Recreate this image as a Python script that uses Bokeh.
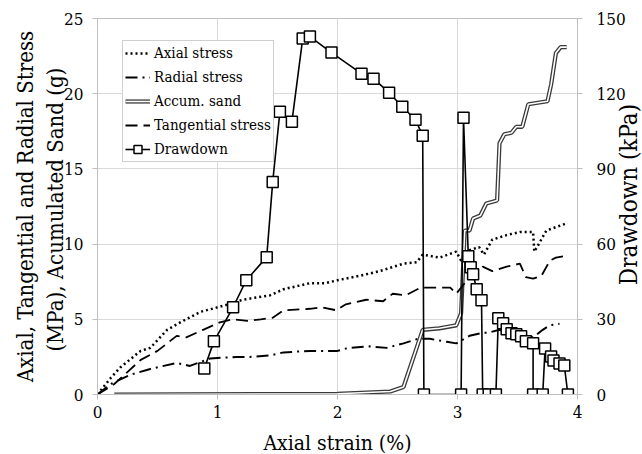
import numpy as np
from bokeh.plotting import figure
from bokeh.models import Range1d, LinearAxis, FixedTicker, Legend, LegendItem, Label
from bokeh.embed import file_html
from bokeh.resources import INLINE

# ---------------- data ----------------
axial_x = [0, 0.11, 0.19, 0.36, 0.44, 0.58, 0.69, 0.86, 1.05, 1.21, 1.44, 1.55, 1.77, 1.90, 2.00,
           2.19, 2.35, 2.55, 2.66, 2.71, 2.85, 2.99, 3.03, 3.10, 3.18, 3.22, 3.29, 3.41, 3.52,
           3.63, 3.64, 3.67, 3.74, 3.88, 3.91]
axial_y = [0, 1.1, 1.8, 2.9, 3.1, 4.3, 4.8, 5.5, 5.9, 6.3, 6.6, 7.0, 7.4, 7.4, 7.6,
           7.9, 8.2, 8.7, 8.8, 9.3, 9.1, 9.5, 8.9, 9.6, 9.8, 9.3, 10.3, 10.6, 10.8,
           10.8, 9.5, 9.9, 10.9, 11.3, 11.4]

radial_x = [0, 0.11, 0.27, 0.44, 0.66, 0.77, 0.94, 1.16, 1.27, 1.44, 1.55, 1.77, 2.00, 2.09,
            2.27, 2.41, 2.55, 2.67, 2.77, 2.91, 2.99, 3.10, 3.21, 3.25, 3.35, 3.52, 3.63,
            3.71, 3.77, 3.85]
radial_y = [0, 0.7, 1.3, 1.7, 2.1, 1.9, 2.4, 2.5, 2.5, 2.6, 2.8, 2.9, 2.9, 3.1,
            3.2, 3.1, 3.4, 3.7, 3.7, 3.5, 3.4, 3.9, 4.1, 4.1, 4.3, 3.9, 3.8,
            4.3, 4.6, 4.7]

tang_x = [0, 0.14, 0.36, 0.50, 0.66, 0.74, 0.88, 1.02, 1.13, 1.25, 1.36, 1.46, 1.55, 1.77,
          1.87, 1.99, 2.07, 2.24, 2.38, 2.46, 2.57, 2.69, 2.81, 2.94, 2.99, 3.06, 3.10,
          3.21, 3.29, 3.41, 3.52, 3.57, 3.63, 3.70, 3.77, 3.82, 3.89]
tang_y = [0, 0.7, 2.3, 2.9, 3.9, 3.8, 4.3, 4.8, 5.0, 4.9, 5.0, 5.1, 5.6, 5.7,
          5.8, 5.6, 6.0, 6.3, 6.2, 6.7, 6.6, 7.1, 7.1, 7.1, 6.7, 7.4, 7.7,
          8.5, 8.2, 8.5, 8.7, 7.8, 7.7, 7.9, 8.9, 9.1, 9.2]

sand_x = [0.14, 2.00, 2.44, 2.55, 2.71, 2.85, 2.99, 3.03, 3.06, 3.10, 3.13, 3.19, 3.24, 3.33,
          3.35, 3.39, 3.45, 3.49, 3.54, 3.59, 3.75, 3.78, 3.82, 3.86, 3.91]
sand_y = [0, 0.05, 0.2, 0.5, 4.3, 4.4, 4.6, 5.4, 10.9, 10.9, 11.7, 11.9, 12.7, 12.9,
          16.7, 17.3, 17.4, 17.8, 17.8, 19.3, 19.5, 20.6, 22.7, 23.1, 23.1]

draw_x = [0.89, 0.97, 1.13, 1.24, 1.41, 1.46, 1.52, 1.62, 1.71, 1.77, 1.95, 2.20, 2.30, 2.43,
          2.54, 2.65, 2.71, 2.72, 3.03, 3.05, 3.09, 3.11, 3.13, 3.16, 3.20, 3.21, 3.26, 3.32,
          3.34, 3.38, 3.41, 3.45, 3.49, 3.53, 3.57, 3.63, 3.63, 3.71, 3.73, 3.78, 3.80,
          3.85, 3.89, 3.92]
draw_y = [10.4, 21.2, 34.8, 45.6, 54.8, 84.8, 112.8, 108.8, 142.0, 142.8, 136.4, 128.0, 126.0, 120.4,
          114.8, 109.6, 103.2, 0, 0, 110.4, 55.2, 50.8, 48.0, 42.0, 37.6, 0, 0, 0,
          30.4, 28.4, 26.0, 24.4, 24.0, 23.2, 21.2, 20.4, 0, 0, 18.4, 15.2, 13.6,
          12.4, 11.6, 0]

x_ticks = [0, 1, 2, 3, 4]
left_ticks = [0, 5, 10, 15, 20, 25]
right_ticks = [0, 30, 60, 90, 120, 150]

# ---------------- figure ----------------
FONT = "DejaVu Serif Condensed"
GRID = "#D9D9D9"
AX = "#BFBFBF"

p = figure(frame_width=480, frame_height=376,
           x_range=Range1d(0, 4), y_range=Range1d(0, 25),
           output_backend="svg", toolbar_location=None,
           min_border_left=97, min_border_right=65,
           min_border_top=18, min_border_bottom=60,
           background_fill_color="white", border_fill_color="white")
p.extra_y_ranges = {"dd": Range1d(0, 150)}
p.outline_line_color = AX

p.xaxis.ticker = FixedTicker(ticks=x_ticks)
p.yaxis.ticker = FixedTicker(ticks=left_ticks)
laxis = p.left[0]
baxis = p.below[0]
raxis = LinearAxis(y_range_name="dd", ticker=FixedTicker(ticks=right_ticks))
p.add_layout(raxis, "right")

for ax in [baxis, laxis, raxis]:
    ax.axis_line_color = AX
    ax.major_tick_line_color = AX
    ax.major_tick_out = 5
    ax.major_tick_in = 0
    ax.minor_tick_line_color = None
    ax.major_label_text_font = FONT
    ax.major_label_text_font_size = "17px"
    ax.major_label_text_color = "black"
    ax.axis_label_text_font = FONT
    ax.axis_label_text_font_size = "21px"
    ax.axis_label_text_font_style = "normal"
    ax.axis_label_text_color = "black"

baxis.axis_label = "Axial strain (%)"
baxis.major_label_standoff = 6
baxis.axis_label_standoff = 10
laxis.axis_label = "Axial, Tangential and Radial Stress\n(MPa),  Acumulated Sand (g)"
laxis.axis_label_text_font_size = "22px"
laxis.major_label_standoff = 9
laxis.axis_label_standoff = -7
raxis.major_label_standoff = 14

p.xgrid.grid_line_color = GRID
p.ygrid.grid_line_color = GRID
p.xgrid.ticker = FixedTicker(ticks=x_ticks)
p.ygrid.ticker = FixedTicker(ticks=left_ticks)

# ---------------- series ----------------
r_ax = p.line(axial_x, axial_y, line_color="black", line_width=2.5, line_dash="2 3")
r_rad = p.line(radial_x, radial_y, line_color="black", line_width=2, line_dash="12 5 2 5")
r_s1 = p.line(sand_x, sand_y, line_color="#3a3a3a", line_width=4.2)
r_s2 = p.line(sand_x, sand_y, line_color="white", line_width=1.6)
r_tan = p.line(tang_x, tang_y, line_color="black", line_width=1.8, line_dash="12 6")
r_dl = p.line(draw_x, draw_y, y_range_name="dd", line_color="black", line_width=1.6)
r_dm = p.scatter(draw_x, draw_y, y_range_name="dd", marker="square", size=11,
                 fill_color="white", line_color="black", line_width=1.5)

legend = Legend(items=[
    LegendItem(label="Axial stress", renderers=[r_ax]),
    LegendItem(label="Radial stress", renderers=[r_rad]),
    LegendItem(label="Accum. sand", renderers=[r_s1, r_s2]),
    LegendItem(label="Tangential stress", renderers=[r_tan]),
    LegendItem(label="Drawdown", renderers=[r_dl, r_dm]),
], location=(25, 232))
legend.label_text_font = FONT
legend.label_text_font_size = "15px"
legend.label_text_color = "black"
legend.glyph_width = 25
legend.glyph_height = 20
legend.label_height = 20
legend.label_standoff = 4
legend.spacing = 4
legend.padding = 2
legend.margin = 0
legend.border_line_color = "#A0A0A0"
legend.background_fill_color = "white"
legend.background_fill_alpha = 1
p.add_layout(legend, "center")

rlabel = Label(x=0, y=200, x_units="screen", y_units="screen", text="Drawdown (kPa)",
               angle=np.pi / 2, text_align="center", text_baseline="middle",
               text_font=FONT, text_font_size="24px", text_color="black")
p.add_layout(rlabel, "right")

open("out.html", "w").write(file_html(p, INLINE))
